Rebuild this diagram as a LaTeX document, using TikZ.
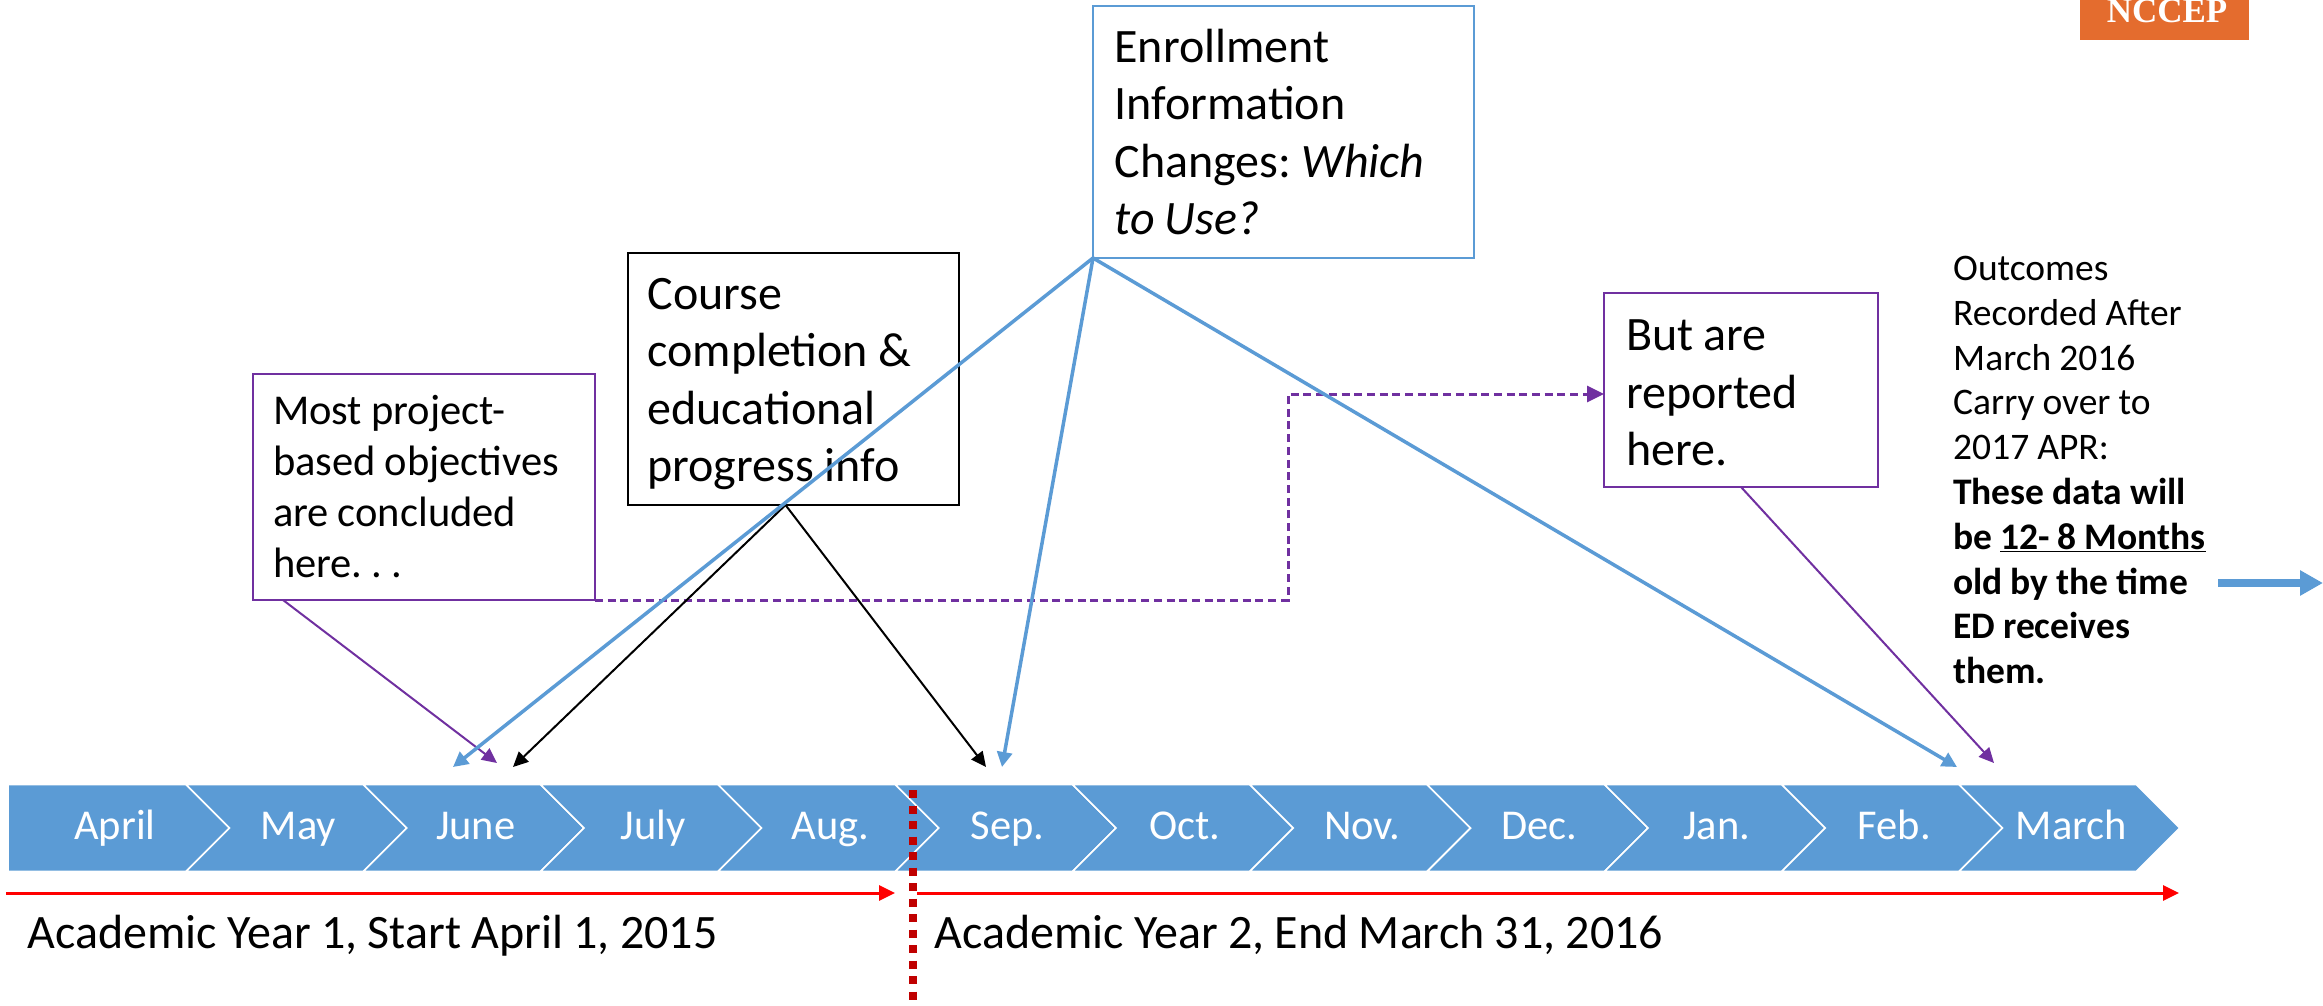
\documentclass[tikz,border=0pt]{standalone}
\usepackage{fontspec}
\setmainfont[WordSpace=0.95]{Carlito}
\newfontfamily\logofont{Liberation Serif}
\usepackage{tikz}
\usetikzlibrary{arrows.meta}
\frenchspacing

\definecolor{bandblue}{HTML}{5B9BD5}
\definecolor{boxpurple}{HTML}{7030A0}
\definecolor{splitred}{HTML}{C00000}
\definecolor{logoorange}{HTML}{E46C2E}

\tikzset{
    bigbox/.style={draw, fill=white, anchor=north west, outer sep=0pt, inner ysep=0pt,
        align=flush left, font=\fontsize{48}{57.5}\selectfont},
    month/.style={anchor=base, text=white, font=\fontsize{42.5}{48}\selectfont},
    yearlabel/.style={anchor=base west, font=\fontsize{48}{56}\selectfont},
    bluearrow/.style={draw=bandblue, line width=3.5pt, -{Triangle[length=15pt, width=15pt]}},
    purplearrow/.style={draw=boxpurple, line width=2pt, -{Triangle[length=15pt, width=14pt]}},
    blackarrow/.style={draw=black, line width=2pt, -{Triangle[length=15pt, width=14pt]}},
    redarrow/.style={draw=red, line width=3pt, -{Triangle[length=16pt, width=15pt]}},
}

\begin{document}
\begin{tikzpicture}[x=1pt, y=-1pt]
\useasboundingbox (0,0) rectangle (2323,1006);

%Band
\fill[bandblue, draw=white, line width=1.6pt]
    (8,784.5) -- (186,784.5) -- (229.5,828) -- (186,871.5) -- (8,871.5) -- cycle;
\foreach \k in {0,...,10}{
    \fill[bandblue, draw=white, line width=1.6pt, shift={(186+177.3*\k,0)}]
        (0,784.5) -- (177.3,784.5) -- (220.8,828) -- (177.3,871.5) -- (0,871.5) -- (43.5,828) -- cycle;
}

%Nodes
\node[month] (april) at (115,839) {April};
\foreach \mname [count=\k from 0] in {May,June,July,Aug.,Sep.,Oct.,Nov.,Dec.,Jan.,Feb.,March}{
    \node[month] (m\k) at ({298.5+177.3*\k},839) {\mname};
}

\node[bigbox, draw=bandblue, line width=2.5pt, inner xsep=21.5pt, text width=338pt, minimum height=252pt]
    (enroll) at (1093,6)
    {Enrollment\\Information\\Changes: \textit{Which}\\\textit{to Use?}};
\node[bigbox, line width=2pt, inner xsep=19.5pt, text width=292pt, minimum height=252pt]
    (course) at (628,253)
    {\rule{0pt}{41pt}Course\\completion \&\\educational\\progress info};
\node[bigbox, draw=boxpurple, line width=2pt, inner xsep=20pt, text width=302pt, minimum height=226pt,
    font=\fontsize{42.5}{51}\selectfont]
    (project) at (253,374)
    {Most project-\\based objectives\\are concluded\\here. . .};
\node[bigbox, draw=boxpurple, line width=2pt, inner xsep=22pt, text width=230pt, minimum height=194pt]
    (reported) at (1604,293)
    {\rule{0pt}{37pt}But are\\reported\\here.};

\node[anchor=north west, inner sep=0pt, align=left, font=\fontsize{37.5}{44.8}\selectfont]
    (outcomes) at (1953,256)
    {Outcomes\\Recorded After\\March 2016\\Carry over to\\2017 APR:\\
    \textbf{These data will}\\\textbf{be \underline{12- 8 Months}}\\\textbf{old by the time}\\
    \textbf{ED receives}\\\textbf{them.}};

\node[yearlabel] (year1) at (24,948) {Academic Year 1, Start April 1, 2015};
\node[yearlabel] (year2) at (931,948) {Academic Year 2, End March 31, 2016};

\node[fill=logoorange, anchor=north west, inner sep=0pt, minimum width=169pt, minimum height=40pt]
    (logobox) at (2080,0) {};
\node[anchor=base, text=white, font=\logofont\bfseries\fontsize{35}{35}\selectfont]
    (logo) at (2167,22.7) {NCCEP};

%Free ends
\coordinate (juneblue)  at (453,767);
\coordinate (junepurp)  at (497,763);
\coordinate (juneblack) at (513,767);
\coordinate (sepblack)  at (986,767);
\coordinate (sepblue)   at (1002,767);
\coordinate (febblue)   at (1957,767);
\coordinate (marpurp)   at (1994,763);
\coordinate (bend)      at (1288,394);
\coordinate (red1a)     at (6,893);
\coordinate (red1b)     at (895,893);
\coordinate (red2a)     at (917,893);
\coordinate (red2b)     at (2179,893);
\coordinate (splittop)  at (913,790);
\coordinate (splitend)  at (913,1006);
\coordinate (outa)      at (2218,583);
\coordinate (outb)      at (2323,583);

%Lines
\draw[redarrow] (red1a) -- (red1b);
\draw[redarrow] (red2a) -- (red2b);
\draw[splitred, line width=7.5pt, dash pattern=on 8pt off 7.5pt] (splittop) -- (splitend);

\draw[purplearrow] ([xshift=30]project.south west) -- (junepurp);
\draw[purplearrow] (reported.south) -- (marpurp);
\draw[draw=boxpurple, line width=3pt, dash pattern=on 8pt off 4.7pt, -{Triangle[length=17pt, width=16pt]}]
    (project.south east) -| (bend) -- ([yshift=-4]reported.west);

\draw[blackarrow] ([xshift=-8]course.south) -- (juneblack);
\draw[blackarrow] ([xshift=-8]course.south) -- (sepblack);

\draw[bluearrow] (enroll.south west) -- (juneblue);
\draw[bluearrow] (enroll.south west) -- (sepblue);
\draw[bluearrow] (enroll.south west) -- (febblue);
\draw[draw=bandblue, line width=8pt, -{Triangle[length=23pt, width=24pt]}] (outa) -- (outb);
\end{tikzpicture}
\end{document}
